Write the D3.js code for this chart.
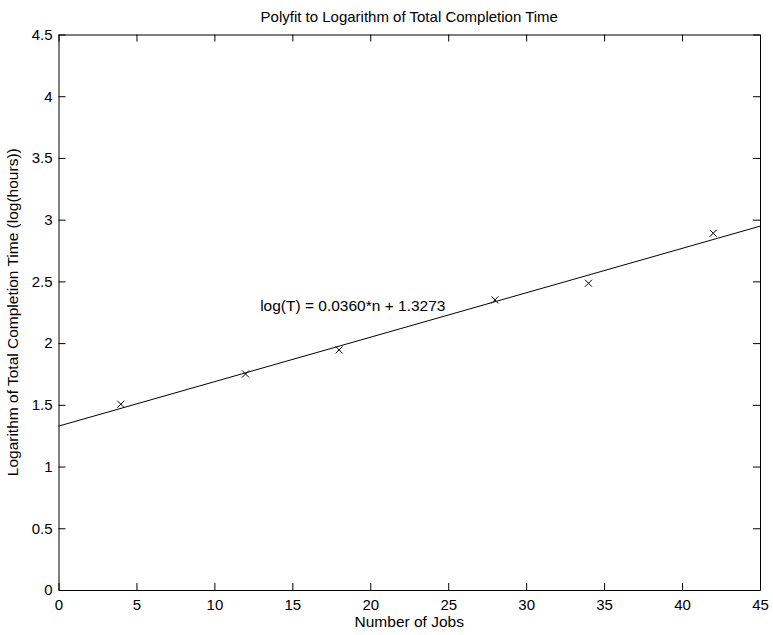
<!DOCTYPE html>
<html>
<head>
<meta charset="utf-8">
<script src="https://cdnjs.cloudflare.com/ajax/libs/d3/7.8.5/d3.min.js"></script>
<style>
  body { margin: 0; background: #fff; }
  svg text { font-family: "Liberation Sans", Arial, Helvetica, sans-serif; fill: #000; }
  .axis path, .axis line { stroke: #000; stroke-width: 1; }
  .axis text { font-size: 15px; }
</style>
</head>
<body>
<div id="chart"></div>
<script>
// measured points
var jobs = [4, 12, 18, 28, 34, 42];
var logT = [1.505, 1.75, 1.945, 2.35, 2.485, 2.89];

// fit coefficients (from the label)
var slope = 0.0360;
var intercept = 1.3273;
var fitLabel = "log(T) = 0.0360*n + 1.3273";
var labelPos = [13, 2.3];

var xTicks = [0, 5, 10, 15, 20, 25, 30, 35, 40, 45];
var yTicks = [0, 0.5, 1, 1.5, 2, 2.5, 3, 3.5, 4, 4.5];

var W = 773, H = 635;
var margin = { top: 34.5, right: 13, bottom: 45, left: 58.5 };
var width = W - margin.left - margin.right,
    height = H - margin.top - margin.bottom;

var svg = d3.select("#chart").append("svg")
  .attr("width", W)
  .attr("height", H);

var g = svg.append("g")
  .attr("transform", "translate(" + margin.left + "," + margin.top + ")");

var x = d3.scaleLinear().domain([0, 45]).range([0, width]);
var y = d3.scaleLinear().domain([0, 4.5]).range([height, 0]);

var fmt = function(d) { return String(d); };

// bottom axis, ticks inward
g.append("g")
  .attr("class", "axis")
  .attr("transform", "translate(0," + height + ")")
  .call(d3.axisBottom(x).tickValues(xTicks).tickFormat(fmt).tickSizeInner(-7).tickSizeOuter(0).tickPadding(9));

// top axis mirror
g.append("g")
  .attr("class", "axis")
  .call(d3.axisTop(x).tickValues(xTicks).tickFormat("").tickSizeInner(-7).tickSizeOuter(0));

// left axis
g.append("g")
  .attr("class", "axis")
  .call(d3.axisLeft(y).tickValues(yTicks).tickFormat(fmt).tickSizeInner(-7).tickSizeOuter(0).tickPadding(6));

// right axis mirror
g.append("g")
  .attr("class", "axis")
  .attr("transform", "translate(" + width + ",0)")
  .call(d3.axisRight(y).tickValues(yTicks).tickFormat("").tickSizeInner(-7).tickSizeOuter(0));

// fit line
var fitX = x.domain();
g.append("path")
  .datum(fitX)
  .attr("fill", "none")
  .attr("stroke", "#000")
  .attr("stroke-width", 1)
  .attr("d", d3.line()
    .x(function(d) { return x(d); })
    .y(function(d) { return y(slope * d + intercept); }));

// x markers
var pts = jobs.map(function(j, i) { return { n: j, v: logT[i] }; });
var s = 3.5;
g.selectAll(".pt")
  .data(pts)
  .enter().append("path")
  .attr("class", "pt")
  .attr("fill", "none")
  .attr("stroke", "#000")
  .attr("stroke-width", 1)
  .attr("d", function(d) {
    var cx = x(d.n), cy = y(d.v);
    return "M" + (cx - s) + "," + (cy - s) + "L" + (cx + s) + "," + (cy + s) +
           "M" + (cx - s) + "," + (cy + s) + "L" + (cx + s) + "," + (cy - s);
  });

// fit label
g.append("text")
  .attr("x", x(labelPos[0]) - 1)
  .attr("y", y(labelPos[1]) + 5)
  .style("font-size", "15.5px")
  .text(fitLabel);

// title
svg.append("text")
  .attr("x", margin.left + width / 2)
  .attr("y", 22)
  .attr("text-anchor", "middle")
  .style("font-size", "15px")
  .text("Polyfit to Logarithm of Total Completion Time");

// x label
svg.append("text")
  .attr("x", margin.left + width / 2)
  .attr("y", 627)
  .attr("text-anchor", "middle")
  .style("font-size", "15.5px")
  .text("Number of Jobs");

// y label
svg.append("text")
  .attr("transform", "translate(18," + (margin.top + height / 2) + ")rotate(-90)")
  .attr("text-anchor", "middle")
  .style("font-size", "15.5px")
  .text("Logarithm of Total Completion Time (log(hours))");
</script>
</body>
</html>
